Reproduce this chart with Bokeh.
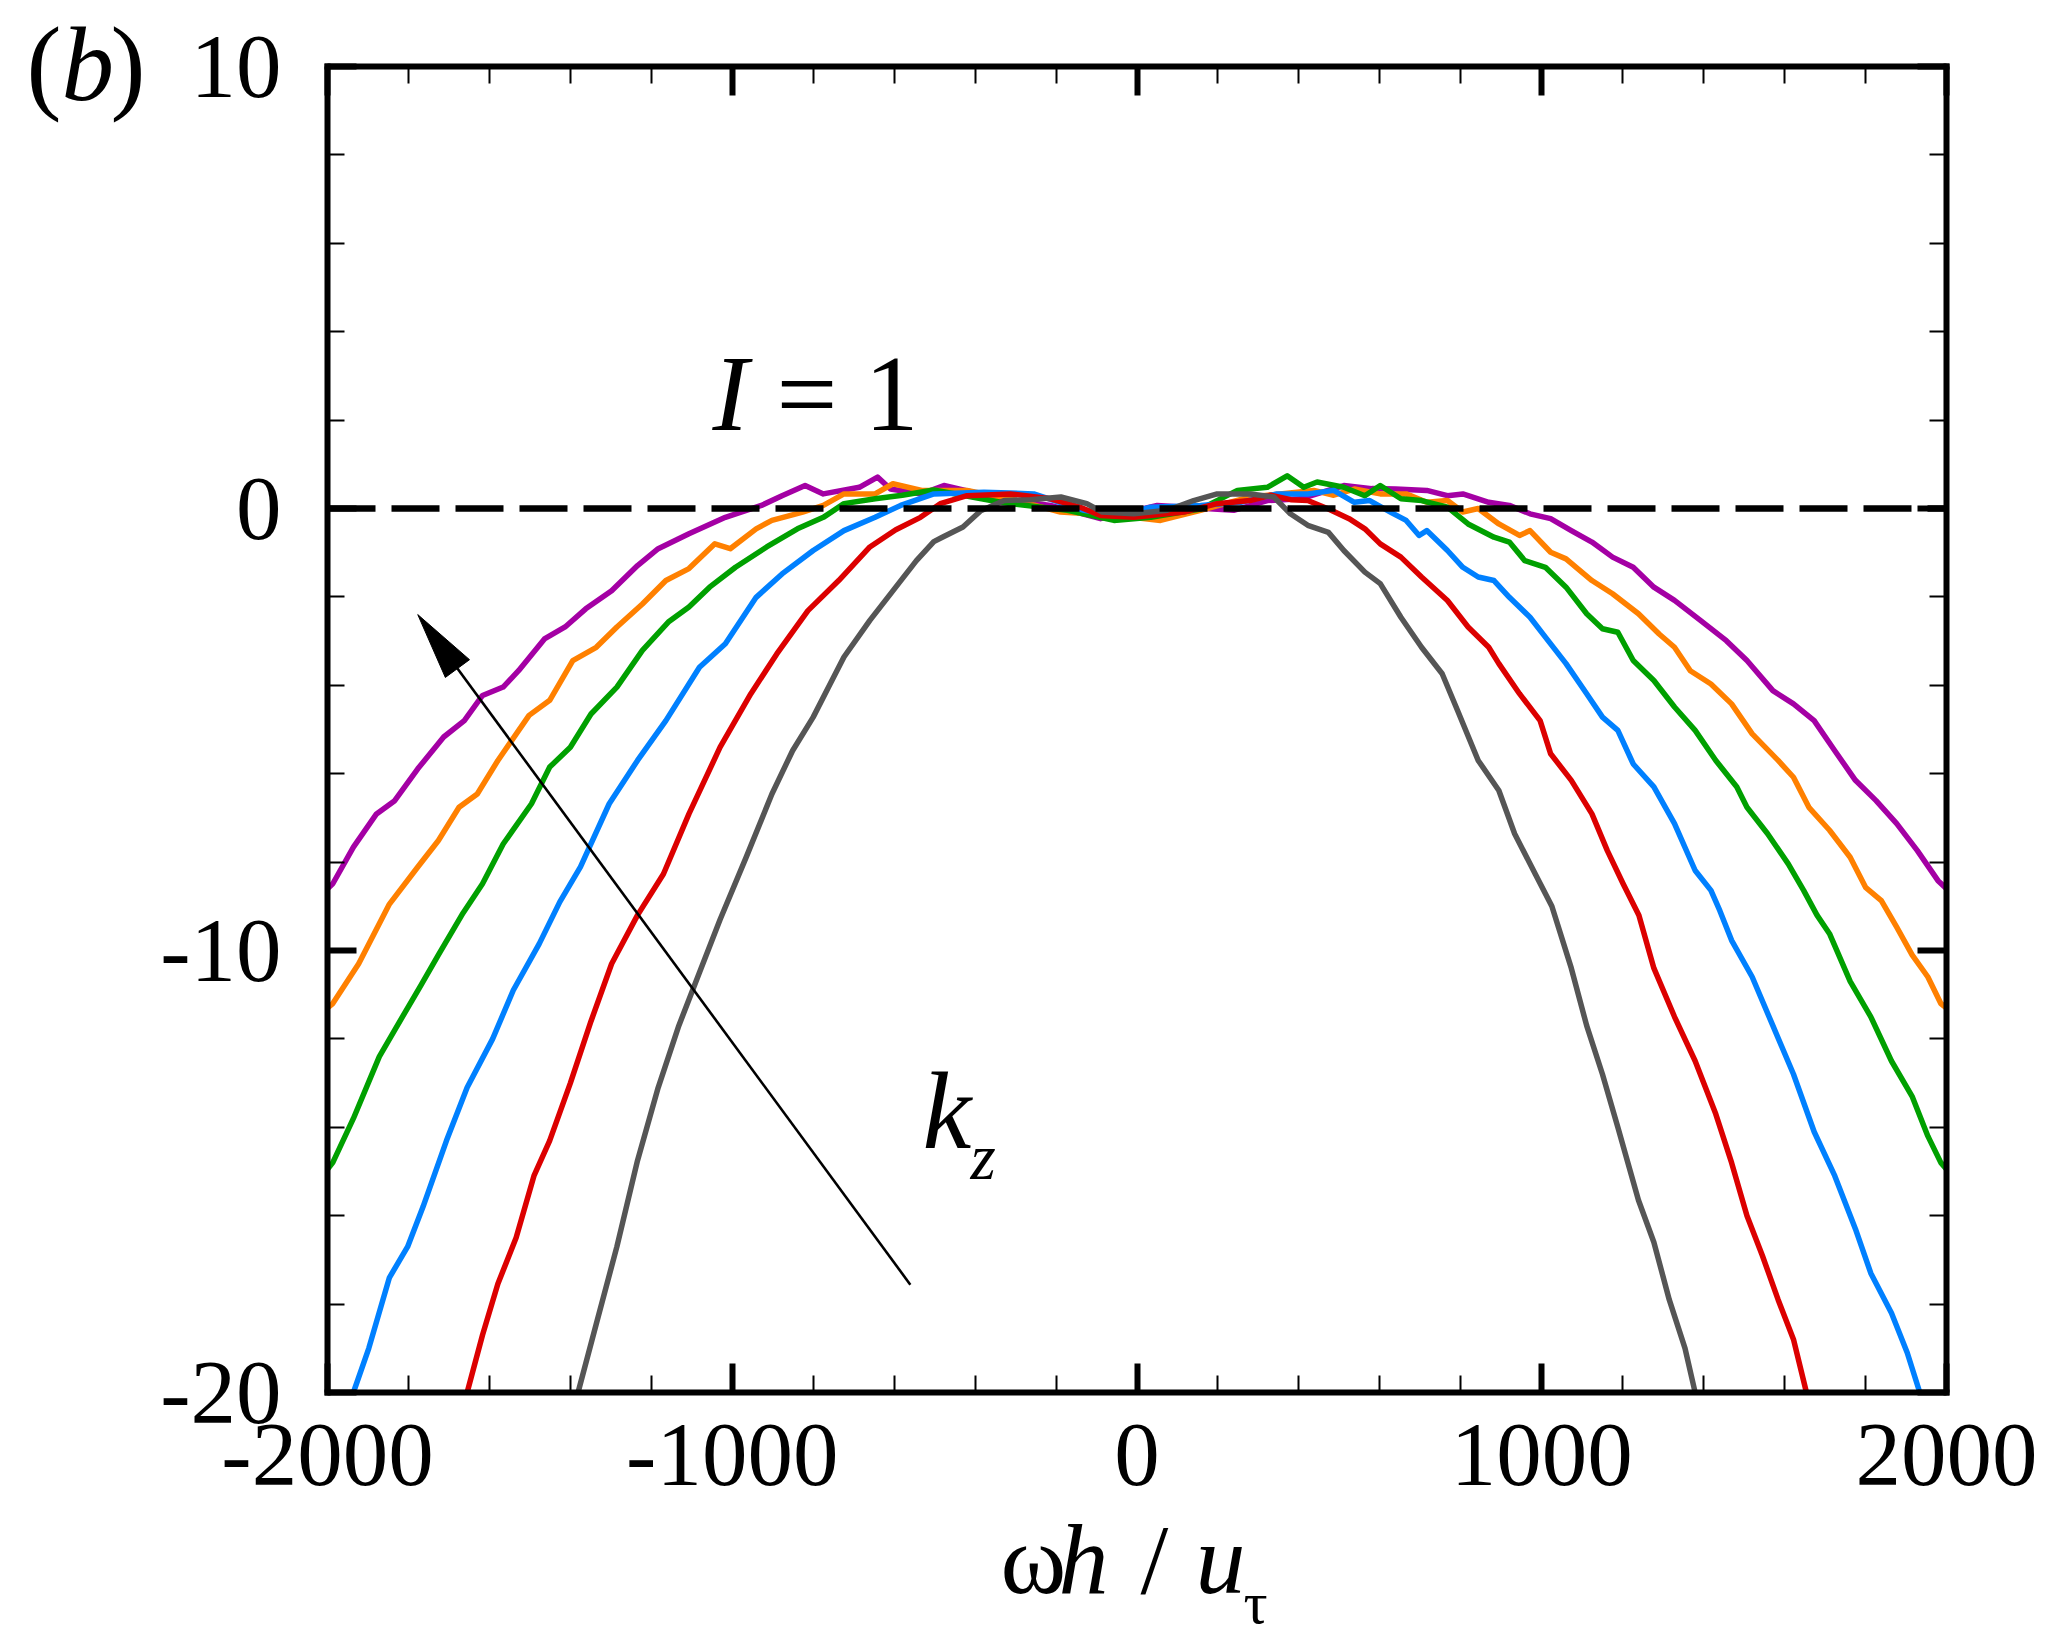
from bokeh.plotting import figure
from bokeh.models import Range1d, LinearAxis, FixedTicker, Label
from bokeh.embed import file_html
from bokeh.resources import INLINE

# ---------------- data ----------------
x_ticks = [-2000, -1000, 0, 1000, 2000]
x_minor = [-1800, -1600, -1400, -1200, -800, -600, -400, -200,
           200, 400, 600, 800, 1200, 1400, 1600, 1800]
y_ticks = [-20, -10, 0, 10]
y_minor = [-18, -16, -14, -12, -8, -6, -4, -2, 2, 4, 6, 8]
x_tick_labels = ["-2000", "-1000", "0", "1000", "2000"]
y_tick_labels = ["-20", "-10", "0", "10"]

purple_pts = [(-2000, -8.6), (-1987, -8.49), (-1936, -7.66), (-1879, -6.91), (-1834, -6.61),
              (-1777, -5.89), (-1713, -5.17), (-1662, -4.80), (-1617, -4.23), (-1566, -4.04),
              (-1528, -3.67), (-1464, -2.95), (-1413, -2.68), (-1362, -2.27), (-1298, -1.86),
              (-1234, -1.29), (-1183, -0.91), (-1107, -0.57), (-1017, -0.20), (-928, 0.07),
              (-877, 0.29), (-820, 0.52), (-775, 0.33), (-686, 0.48), (-641, 0.71), (-609, 0.44),
              (-532, 0.33), (-477, 0.52), (-337, 0.22), (-214, 0.07), (-90, -0.23), (50, 0.07),
              (239, -0.04), (322, 0.18), (404, 0.22), (511, 0.52), (580, 0.45), (639, 0.44),
              (716, 0.41), (767, 0.29), (805, 0.33), (869, 0.14), (920, 0.07), (971, -0.12),
              (1022, -0.23), (1073, -0.50), (1124, -0.76), (1175, -1.10), (1226, -1.33),
              (1277, -1.78), (1328, -2.08), (1392, -2.53), (1456, -2.99), (1507, -3.44),
              (1571, -4.12), (1622, -4.42), (1673, -4.80), (1724, -5.48), (1775, -6.15),
              (1826, -6.61), (1877, -7.13), (1928, -7.74), (1979, -8.42), (2000, -8.6)]

orange_pts = [(-2000, -11.3), (-1987, -11.2), (-1923, -10.3), (-1847, -8.95), (-1777, -8.11),
              (-1726, -7.51), (-1675, -6.76), (-1630, -6.46), (-1579, -5.70), (-1502, -4.68),
              (-1451, -4.34), (-1394, -3.44), (-1336, -3.14), (-1285, -2.68), (-1222, -2.16),
              (-1164, -1.63), (-1107, -1.36), (-1043, -0.80), (-1005, -0.91), (-941, -0.46),
              (-902, -0.27), (-826, -0.08), (-775, 0.07), (-724, 0.33), (-647, 0.33),
              (-603, 0.56), (-532, 0.41), (-420, 0.41), (-296, 0.18), (-189, -0.08),
              (-49, -0.16), (58, -0.27), (157, -0.04), (280, 0.26), (437, 0.41), (486, 0.30),
              (537, 0.44), (601, 0.33), (665, 0.33), (716, 0.14), (767, 0.18), (805, -0.08),
              (843, 0.0), (894, -0.35), (945, -0.61), (971, -0.50), (1022, -0.99), (1060, -1.14),
              (1124, -1.63), (1175, -1.93), (1239, -2.38), (1290, -2.84), (1328, -3.14),
              (1367, -3.67), (1418, -3.97), (1469, -4.42), (1520, -5.10), (1584, -5.70),
              (1622, -6.08), (1660, -6.76), (1711, -7.28), (1762, -7.89), (1800, -8.57),
              (1839, -8.87), (1877, -9.47), (1915, -10.1), (1954, -10.6), (1986, -11.2),
              (2000, -11.3)]

green_pts = [(-2000, -14.95), (-1987, -14.8), (-1936, -13.8), (-1872, -12.4), (-1834, -11.8),
             (-1770, -10.8), (-1726, -10.1), (-1665, -9.15), (-1617, -8.49), (-1566, -7.59),
             (-1496, -6.68), (-1451, -5.85), (-1400, -5.40), (-1349, -4.65), (-1285, -4.04),
             (-1222, -3.21), (-1158, -2.57), (-1107, -2.23), (-1056, -1.78), (-992, -1.33),
             (-915, -0.87), (-839, -0.46), (-775, -0.20), (-724, 0.11), (-647, 0.22),
             (-580, 0.30), (-502, 0.42), (-337, 0.14), (-172, -0.04), (-57, -0.27), (34, -0.20),
             (157, -0.01), (248, 0.41), (322, 0.48), (371, 0.74), (412, 0.48), (445, 0.60),
             (511, 0.48), (563, 0.29), (601, 0.52), (652, 0.22), (703, 0.18), (767, 0.03),
             (818, -0.35), (882, -0.65), (920, -0.76), (958, -1.18), (1009, -1.33),
             (1060, -1.78), (1111, -2.38), (1150, -2.72), (1188, -2.80), (1226, -3.44),
             (1277, -3.89), (1328, -4.49), (1379, -5.02), (1430, -5.70), (1482, -6.30),
             (1507, -6.76), (1558, -7.36), (1609, -8.04), (1647, -8.64), (1680, -9.2),
             (1711, -9.62), (1762, -10.7), (1813, -11.5), (1864, -12.5), (1915, -13.3),
             (1954, -14.2), (1986, -14.8), (2000, -14.95)]

blue_pts = [(-1936, -20.0), (-1898, -19.0), (-1847, -17.4), (-1802, -16.7), (-1764, -15.8),
            (-1706, -14.3), (-1655, -13.1), (-1592, -12.0), (-1541, -10.9), (-1477, -9.85),
            (-1426, -8.9), (-1375, -8.11), (-1304, -6.68), (-1234, -5.70), (-1164, -4.80),
            (-1081, -3.59), (-1017, -3.06), (-941, -2.01), (-877, -1.48), (-800, -0.95),
            (-724, -0.50), (-647, -0.20), (-584, 0.07), (-502, 0.33), (-378, 0.37),
            (-255, 0.33), (-131, -0.04), (-49, -0.16), (34, 0.03), (157, 0.07), (256, 0.14),
            (346, 0.33), (422, 0.33), (486, 0.41), (537, 0.14), (575, 0.18), (626, -0.08),
            (665, -0.27), (697, -0.61), (716, -0.50), (767, -0.95), (805, -1.33), (843, -1.55),
            (882, -1.63), (920, -2.01), (971, -2.46), (1009, -2.91), (1060, -3.51),
            (1111, -4.19), (1150, -4.72), (1188, -5.02), (1226, -5.78), (1277, -6.30),
            (1328, -7.13), (1379, -8.19), (1418, -8.64), (1440, -9.1), (1469, -9.77),
            (1520, -10.6), (1571, -11.7), (1622, -12.8), (1673, -14.1), (1724, -15.1),
            (1775, -16.3), (1813, -17.3), (1864, -18.2), (1903, -19.1), (1934, -20.0)]

red_pts = [(-1655, -20.0), (-1617, -18.7), (-1579, -17.54), (-1534, -16.5), (-1490, -15.1),
           (-1451, -14.3), (-1400, -13.0), (-1349, -11.6), (-1298, -10.3), (-1234, -9.2),
           (-1170, -8.27), (-1107, -6.91), (-1030, -5.40), (-954, -4.19), (-890, -3.29),
           (-813, -2.31), (-737, -1.63), (-660, -0.87), (-596, -0.48), (-535, -0.20),
           (-486, 0.11), (-420, 0.29), (-313, 0.33), (-214, 0.22), (-140, 0.03), (-90, -0.16),
           (-8, -0.20), (116, -0.08), (198, 0.11), (280, 0.18), (330, 0.30), (380, 0.20),
           (422, 0.18), (473, -0.01), (524, -0.23), (563, -0.46), (601, -0.80), (652, -1.10),
           (703, -1.55), (767, -2.08), (818, -2.68), (869, -3.14), (894, -3.51), (945, -4.19),
           (996, -4.80), (1022, -5.55), (1073, -6.15), (1124, -6.91), (1162, -7.74),
           (1201, -8.49), (1240, -9.2), (1277, -10.4), (1328, -11.5), (1379, -12.5),
           (1430, -13.7), (1469, -14.8), (1507, -16.0), (1545, -16.9), (1584, -17.9),
           (1622, -18.8), (1654, -20.0)]

gray_pts = [(-1381, -20.0), (-1336, -18.45), (-1285, -16.7), (-1234, -14.75), (-1183, -13.1),
            (-1132, -11.7), (-1081, -10.5), (-1030, -9.3), (-966, -7.9), (-902, -6.46),
            (-851, -5.48), (-800, -4.72), (-762, -4.04), (-724, -3.36), (-660, -2.53),
            (-596, -1.78), (-545, -1.18), (-502, -0.75), (-481, -0.65), (-430, -0.42),
            (-386, -0.05), (-328, 0.18), (-264, 0.20), (-188, 0.26), (-124, 0.11), (-86, -0.08),
            (-8, -0.12), (75, -0.04), (140, 0.18), (198, 0.33), (280, 0.33), (338, 0.26),
            (379, -0.12), (422, -0.38), (473, -0.54), (511, -0.95), (563, -1.44), (601, -1.70),
            (652, -2.46), (703, -3.14), (754, -3.74), (792, -4.57), (843, -5.70), (894, -6.38),
            (933, -7.36), (984, -8.27), (1025, -9.0), (1073, -10.4), (1111, -11.7),
            (1150, -12.8), (1188, -14.0), (1239, -15.65), (1277, -16.6), (1315, -17.9),
            (1354, -19.0), (1379, -20.0)]

series = [
    ("purple", purple_pts, "#A400A4"),
    ("orange", orange_pts, "#FF8000"),
    ("green", green_pts, "#00A000"),
    ("blue", blue_pts, "#0080FF"),
    ("red", red_pts, "#DC0000"),
    ("gray", gray_pts, "#555555"),
]

ref_level = 0          # I = 1 line
arrow_start = (-560, -17.56)
arrow_end = (-1777, -2.40)

# ---------------- layout constants ----------------
W, H = 2048, 1639                  # canvas
FW, FH = 1619, 1326                # data box
ML, MT = 327, 66                   # data box offset from canvas top-left
MR, MB = W - ML - FW, H - MT - FH
X0, X1, Y0, Y1 = -2000, 2000, -20, 10
SX = FW / (X1 - X0)   # px per x unit
SY = FH / (Y1 - Y0)   # px per y unit
FONT = "Liberation Serif"
BASELINE_FIX = 0.34   # empirical shift of Label's alphabetic baseline (em)


def px_x(px):
    """canvas pixel column -> data x"""
    return X0 + (px - ML) / SX


def px_y(py):
    """canvas pixel row -> data y"""
    return Y1 - (py - MT) / SY


p = figure(width=W, height=H,
           x_range=Range1d(X0 - ML / SX, X1 + MR / SX),
           y_range=Range1d(Y0 - MB / SY, Y1 + MT / SY),
           x_axis_location=None, y_axis_location=None,
           output_backend="svg", toolbar_location=None,
           min_border=0, min_border_left=0, min_border_right=0,
           min_border_top=0, min_border_bottom=0,
           background_fill_color="white", border_fill_color="white")
p.outline_line_color = None
p.grid.visible = False

bottom_axis = LinearAxis(fixed_location=Y0, bounds=(X0, X1))
top_axis = LinearAxis(fixed_location=Y1, bounds=(X0, X1))
left_axis = LinearAxis(fixed_location=X0, bounds=(Y0, Y1))
right_axis = LinearAxis(fixed_location=X1, bounds=(Y0, Y1))
p.add_layout(bottom_axis, "below")
p.add_layout(top_axis, "above")
p.add_layout(left_axis, "left")
p.add_layout(right_axis, "right")

for ax in [bottom_axis, top_axis]:
    ax.ticker = FixedTicker(ticks=x_ticks, minor_ticks=x_minor)
for ax in [left_axis, right_axis]:
    ax.ticker = FixedTicker(ticks=y_ticks, minor_ticks=y_minor)

for ax in [bottom_axis, top_axis, left_axis, right_axis]:
    ax.axis_line_color = "black"
    ax.axis_line_width = 6
    ax.axis_line_cap = "square"
    ax.major_tick_in = 29
    ax.major_tick_out = 0
    ax.major_tick_line_width = 6
    ax.major_tick_line_color = "black"
    ax.minor_tick_in = 17
    ax.minor_tick_out = 0
    ax.minor_tick_line_width = 2
    ax.minor_tick_line_color = "black"
    ax.major_label_text_font = FONT
    ax.major_label_text_color = "black"
    ax.major_label_text_font_size = "91px"

for ax in [top_axis, right_axis]:
    ax.major_label_text_color = None
    ax.major_label_text_font_size = "1px"
    ax.major_label_standoff = 0

bottom_axis.major_label_overrides = {t: s for t, s in zip(x_ticks, x_tick_labels)}
left_axis.major_label_overrides = {t: s for t, s in zip(y_ticks, y_tick_labels)}
bottom_axis.major_label_standoff = 32
left_axis.major_label_standoff = 46

# ---------------- curves ----------------
for name, pts, col in series:
    xs = [a for a, b in pts]
    ys = [b for a, b in pts]
    p.line(xs, ys, line_color=col, line_width=5.5, line_join="round")

# I = 1 dashed reference line
p.line([X0, X1], [ref_level, ref_level], line_color="black",
       line_width=6.5, line_dash="48 16")

# ---------------- arrow ----------------
ax0, ay0 = arrow_start
ax1, ay1 = arrow_end
dxp = (ax1 - ax0) * SX
dyp = (ay1 - ay0) * SY
L = (dxp ** 2 + dyp ** 2) ** 0.5
ux, uy = dxp / L, dyp / L
HL, HW = 67, 15
base_x = ax1 - HL * ux / SX
base_y = ay1 - HL * uy / SY
nx, ny = -uy, ux
p.line([ax0, base_x], [ay0, base_y], line_color="black", line_width=2.6)
p.patch([ax1, base_x + HW * nx / SX, base_x - HW * nx / SX],
        [ay1, base_y + HW * ny / SY, base_y - HW * ny / SY],
        fill_color="black", line_color="black", line_width=1)


def add_text(txt, px, py, size, style="normal"):
    """place text with its baseline at canvas row py, left edge at column px"""
    py_adj = py - BASELINE_FIX * size
    p.add_layout(Label(x=px_x(px), y=px_y(py_adj), text=txt, text_font=FONT,
                       text_font_size=f"{size}px", text_font_style=style,
                       text_color="black", text_align="left",
                       text_baseline="alphabetic"))


# panel tag (b)
add_text("(", 26, 100, 105)
add_text("b", 61, 100, 105, "italic")
add_text(")", 110, 100, 105)

# I = 1
add_text("I", 712, 430, 108, "italic")
add_text("= 1", 776, 430, 108)

# k_z
add_text("k", 922, 1148, 110, "italic")
add_text("z", 970, 1179, 65, "italic")

# x-axis label  ωh / u_τ
add_text("ω", 1000, 1593, 100)
add_text("h", 1058, 1593, 100, "italic")
add_text("/", 1140, 1593, 100)
add_text("u", 1195, 1593, 100, "italic")
add_text("τ", 1243, 1623, 60)

open("out.html", "w").write(file_html(p, INLINE))
